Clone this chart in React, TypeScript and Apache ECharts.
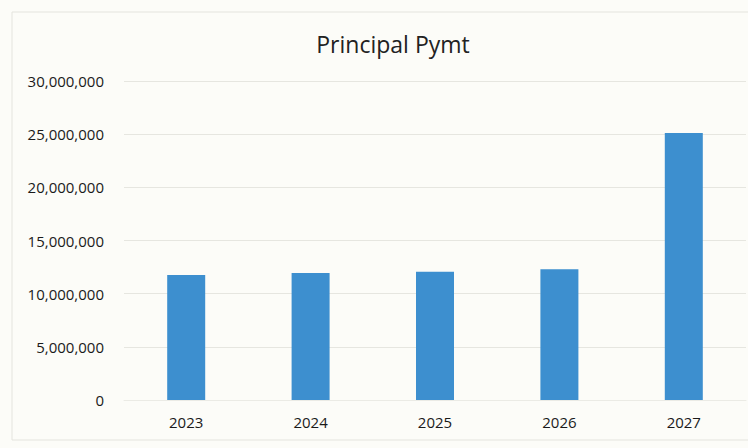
import React, { useEffect, useRef } from "react";
import * as echarts from "echarts";

const categories = ["2023", "2024", "2025", "2026", "2027"];
const principalValues = [11760000, 11950000, 12050000, 12300000, 25100000];
const titleText = "Principal Pymt";

export default function App() {
  const ref = useRef<HTMLDivElement>(null);
  useEffect(() => {
    if (!ref.current) return;
    const chart = echarts.init(ref.current, undefined, { renderer: "svg" });
    const font = "'Open Sans', 'Noto Sans', sans-serif";
    chart.setOption({
      animation: false,
      backgroundColor: "#fcfcf8",
      title: {
        text: titleText,
        left: 388,
        top: 27,
        textAlign: "center",
        textStyle: { fontFamily: font, fontSize: 23, fontWeight: "normal", color: "#222" },
      },
      graphic: [
        {
          type: "rect",
          shape: { x: 12, y: 12, width: 740, height: 428 },
          style: { fill: "none", stroke: "#e4e4de", lineWidth: 1 },
          silent: true,
        },
      ],
      grid: { left: 124, right: 2, top: 81, bottom: 48 },
      xAxis: {
        type: "category",
        data: categories,
        axisLine: { show: true, lineStyle: { color: "#ebebe5" } },
        axisTick: { show: false },
        axisLabel: { color: "#1a1a1a", fontFamily: font, fontSize: 15, margin: 14 },
      },
      yAxis: {
        type: "value",
        min: 0,
        max: 30000000,
        interval: 5000000,
        axisLine: { show: false },
        axisTick: { show: false },
        splitLine: { lineStyle: { color: "#e6e6e0" } },
        axisLabel: {
          color: "#1a1a1a",
          fontFamily: font,
          fontSize: 15,
          margin: 20,
          formatter: (v: number) => v.toLocaleString("en-US"),
        },
      },
      series: [
        {
          type: "bar",
          data: principalValues,
          barWidth: 38,
          itemStyle: { color: "#3d8fcf" },
        },
      ],
    });
    return () => chart.dispose();
  }, []);
  return (
    <div
      ref={ref}
      style={{ position: "fixed", left: 0, top: 0, width: 748, height: 448 }}
    />
  );
}
